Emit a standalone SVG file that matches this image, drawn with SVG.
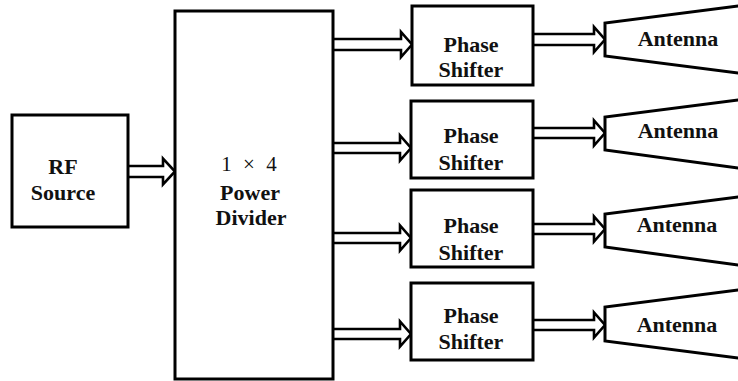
<svg xmlns="http://www.w3.org/2000/svg" width="738" height="381" viewBox="0 0 738 381">
<style>
.box{fill:#fff;stroke:#000;stroke-width:3}
.arr{fill:#fff;stroke:#000;stroke-width:2.6;stroke-linejoin:miter}
.ant{fill:#fff;stroke:#000;stroke-width:3;stroke-linejoin:miter}
text{font-family:'Liberation Serif','Times New Roman','DejaVu Serif',serif;font-size:22px;font-weight:700;fill:#111;text-anchor:middle}
.reg{font-weight:400;font-size:21px}
</style>
<rect width="738" height="381" fill="#fff"/>
<g id="connectors">
<path class="arr" d="M128,166 H163 V158.5 L175,171.5 L163,184.5 V177 H128"/>
<path class="arr" d="M333,39 H401 V32 L412,44.5 L401,57 V50 H333"/>
<path class="arr" d="M333,143 H400 V135.5 L411,148 L400,160.5 V153 H333"/>
<path class="arr" d="M333,233 H400 V225.5 L411,238 L400,250.5 V243 H333"/>
<path class="arr" d="M333,329 H400 V321.5 L411,334 L400,346.5 V339 H333"/>
<path class="arr" d="M533,34 H594 V27 L605,39.5 L594,52 V45 H533"/>
<path class="arr" d="M533,128 H594 V120.5 L605,133 L594,145.5 V138 H533"/>
<path class="arr" d="M533,224 H594 V216.5 L605,229 L594,241.5 V234 H533"/>
<path class="arr" d="M533,320 H594 V312.5 L605,325 L594,337.5 V330 H533"/>
</g>
<g id="rf-source">
<rect class="box" x="12" y="115" width="116" height="112"/>
<text x="63" y="174">RF</text>
<text x="63" y="200">Source</text>
</g>
<g id="power-divider">
<rect class="box" x="175" y="11" width="158" height="368"/>
<text class="reg" x="249" y="171" word-spacing="6">1 × 4</text>
<text x="250" y="200">Power</text>
<text x="251" y="225">Divider</text>
</g>
<g id="phase-shifter-1">
<rect class="box" x="412" y="6" width="121" height="79"/>
<text x="471" y="52">Phase</text>
<text x="471" y="77">Shifter</text>
</g>
<g id="phase-shifter-2">
<rect class="box" x="411" y="101" width="122" height="77"/>
<text x="471" y="143">Phase</text>
<text x="471" y="170">Shifter</text>
</g>
<g id="phase-shifter-3">
<rect class="box" x="411" y="190" width="122" height="77"/>
<text x="471" y="233">Phase</text>
<text x="471" y="260">Shifter</text>
</g>
<g id="phase-shifter-4">
<rect class="box" x="411" y="283" width="122" height="77"/>
<text x="471" y="323">Phase</text>
<text x="471" y="349">Shifter</text>
</g>
<g id="antenna-1">
<path class="ant" d="M745,5 L605,23 V56 L745,74"/>
<text x="678" y="46">Antenna</text>
</g>
<g id="antenna-2">
<path class="ant" d="M745,99 L605,117 V150 L745,169"/>
<text x="678" y="138">Antenna</text>
</g>
<g id="antenna-3">
<path class="ant" d="M745,196 L605,214 V247 L745,266"/>
<text x="677" y="232">Antenna</text>
</g>
<g id="antenna-4">
<path class="ant" d="M745,289 L605,307 V341 L745,359"/>
<text x="677" y="332">Antenna</text>
</g>
</svg>
